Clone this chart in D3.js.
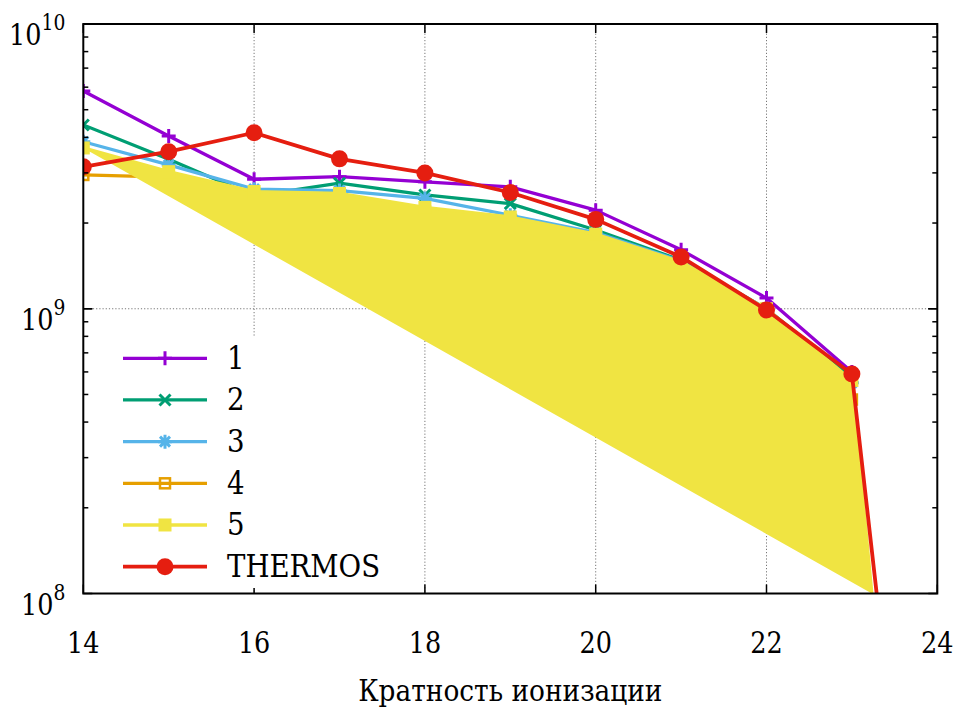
<!DOCTYPE html>
<html><head><meta charset="utf-8">
<script src="https://cdn.jsdelivr.net/npm/d3@7"></script>
<style>body{margin:0;background:#fff}svg{display:block}</style>
</head><body>
<svg id="c" width="963" height="711"></svg>
<script>
// ---- data ----
const xCharge = [14,15,16,17,18,19,20,21,22,23];
const xChargeExt = [14,15,16,17,18,19,20,21,22,23,24];
const series1 = [5.82e9,4.04e9,2.85e9,2.91e9,2.79e9,2.68e9,2.22e9,1.61e9,1.09e9,6.0e8];
const series2 = [4.42e9,3.35e9,2.49e9,2.76e9,2.51e9,2.34e9,1.89e9,1.48e9,1.0e9,5.7e8];
const series3 = [3.86e9,3.2e9,2.63e9,2.6e9,2.44e9,2.13e9,1.85e9,1.47e9,1.0e9,5.5e8];
const series4 = [2.95e9,2.9e9,2.5e9,2.45e9,2.2e9,2.05e9,1.8e9,1.42e9,0.98e9,4.8e8];
const series5 = [3.67e9,3.03e9,2.58e9,2.54e9,2.27e9,2.10e9,1.83e9,1.46e9,1.0e9,5.6e8,3.5e5];
const thermos = [3.15e9,3.56e9,4.15e9,3.36e9,3.0e9,2.56e9,2.06e9,1.52e9,0.99e9,5.9e8,1.3e6];
const legendLabels = ["1","2","3","4","5","THERMOS"];
const xTickValues = [14,16,18,20,22,24];
const yTickExponents = [8,9,10];
const xLabel = "Кратность ионизации";

const FONT="DejaVu Serif";
const L=83.3,R=937.3,T=24,B=593.5;
const svg=d3.select("#c");
const x=d3.scaleLinear().domain([14,24]).range([L,R]);
const y=d3.scaleLog().domain([1e8,1e10]).range([B,T]);

svg.append("defs").append("clipPath").attr("id","pc")
  .append("rect").attr("x",L).attr("y",T).attr("width",R-L).attr("height",B-T);

// grid
const grid=svg.append("g").attr("stroke","#777").attr("stroke-width",1).attr("stroke-dasharray","1.2,2");
xTickValues.filter(v=>v>14&&v<24).forEach(v=>{
  grid.append("line").attr("x1",x(v)).attr("x2",x(v)).attr("y1",T).attr("y2",B);
});
yTickExponents.filter(e=>e>8&&e<10).forEach(e=>{
  grid.append("line").attr("x1",L).attr("x2",R).attr("y1",y(Math.pow(10,e))).attr("y2",y(Math.pow(10,e)));
});

const colors=["#9400d3","#009e73","#56b4e9","#e69f00","#f0e442","#e51e10"];
const lw=[3.3,3.3,3.3,3.3,3.3,3.8];
const plot=svg.append("g").attr("clip-path","url(#pc)");
const line=d3.line().x(d=>x(d[0])).y(d=>y(d[1]));

function marker(g,type,cx,cy,col){
  const s=7;
  if(type==="plus"){
    g.append("path").attr("d",`M${cx-s},${cy}H${cx+s}M${cx},${cy-s}V${cy+s}`).attr("stroke",col).attr("stroke-width",3).attr("fill","none");
  } else if(type==="cross"){
    const k=5.5;
    g.append("path").attr("d",`M${cx-k},${cy-k}L${cx+k},${cy+k}M${cx-k},${cy+k}L${cx+k},${cy-k}`).attr("stroke",col).attr("stroke-width",3).attr("fill","none");
  } else if(type==="star"){
    const k=5;
    g.append("path").attr("d",`M${cx-s},${cy}H${cx+s}M${cx},${cy-s}V${cy+s}M${cx-k},${cy-k}L${cx+k},${cy+k}M${cx-k},${cy+k}L${cx+k},${cy-k}`).attr("stroke",col).attr("stroke-width",3).attr("fill","none");
  } else if(type==="osq"){
    g.append("rect").attr("x",cx-5).attr("y",cy-5).attr("width",10).attr("height",10).attr("fill","none").attr("stroke",col).attr("stroke-width",2.5);
  } else if(type==="fsq"){
    g.append("rect").attr("x",cx-6.5).attr("y",cy-6.5).attr("width",13).attr("height",13).attr("fill",col);
  } else if(type==="circ"){
    g.append("circle").attr("cx",cx).attr("cy",cy).attr("r",8.5).attr("fill",col);
  }
}
const mtypes=["plus","cross","star","osq","fsq","circ"];
const allSeries=[
  {xs:xCharge,ys:series1},{xs:xCharge,ys:series2},{xs:xCharge,ys:series3},
  {xs:xCharge,ys:series4},{xs:xChargeExt,ys:series5},{xs:xChargeExt,ys:thermos}
];

allSeries.forEach((s,i)=>{
  const pts=s.xs.map((v,j)=>[v,s.ys[j]]);
  const g=plot.append("g");
  if(i===4){
    // closed filled curve, clipped at the lower limit of the y axis
    const ymin=y.domain()[0];
    const poly=[];
    for(let j=0;j<pts.length;j++){
      if(pts[j][1]>=ymin){poly.push(pts[j]);}
      else{
        const a=pts[j-1],b=pts[j];
        const t=(Math.log10(a[1])-Math.log10(ymin))/(Math.log10(a[1])-Math.log10(b[1]));
        poly.push([a[0]+t*(b[0]-a[0]),ymin]);
        break;
      }
    }
    g.append("path").attr("d",line(poly)+"Z").attr("fill",colors[i]).attr("stroke","none");
  }
  g.append("path").attr("d",line(pts)).attr("fill","none").attr("stroke",colors[i])
    .attr("stroke-width",lw[i]).attr("stroke-linejoin","round");
  pts.forEach(p=>{ if(p[1]>=y.domain()[0]) marker(g,mtypes[i],x(p[0]),y(p[1]),colors[i]); });
});

// border
svg.append("rect").attr("x",L).attr("y",T).attr("width",R-L).attr("height",B-T)
  .attr("fill","none").attr("stroke","#000").attr("stroke-width",2);

// ticks
const tk=svg.append("g").attr("stroke","#000").attr("stroke-width",1.5);
xTickValues.forEach(v=>{
  tk.append("line").attr("x1",x(v)).attr("x2",x(v)).attr("y1",B).attr("y2",B-9);
  tk.append("line").attr("x1",x(v)).attr("x2",x(v)).attr("y1",T).attr("y2",T+9);
});
for(let e=8;e<10;e++){
  for(let m=1;m<=10;m++){
    const v=m*Math.pow(10,e);
    const len=(m===1||m===10)?9:5;
    tk.append("line").attr("x1",L).attr("x2",L+len).attr("y1",y(v)).attr("y2",y(v));
    tk.append("line").attr("x1",R).attr("x2",R-len).attr("y1",y(v)).attr("y2",y(v));
  }
}

function txt(g,px,py,sx,size,anchor){
  return g.append("text").attr("transform",`translate(${px},${py}) scale(${sx},1)`)
    .attr("font-family",FONT).attr("font-size",size).attr("text-anchor",anchor).attr("fill","#000");
}
// tick labels
const tl=svg.append("g");
xTickValues.forEach(v=>{ txt(tl,x(v),653,0.85,30,"middle").text(v); });
yTickExponents.forEach(e=>{
  const ty=y(Math.pow(10,e));
  const t=txt(tl,L-18,ty+21,0.85,30,"end");
  t.append("tspan").text("10");
  t.append("tspan").attr("font-size",22).attr("dy",-15).text(e);
});

// axis label
txt(svg,(L+R)/2,701,0.88,30,"middle").text(xLabel);

// legend (opaque key)
const lg=svg.append("g");
lg.append("rect").attr("x",110).attr("y",337).attr("width",285).attr("height",251).attr("fill","#fff");
legendLabels.forEach((lab,i)=>{
  const ly=358.3+i*41.67;
  lg.append("line").attr("x1",123).attr("x2",207).attr("y1",ly).attr("y2",ly).attr("stroke",colors[i]).attr("stroke-width",lw[i]);
  marker(lg,mtypes[i],165,ly,colors[i]);
  txt(lg,227,ly+10.5,0.89,31,"start").text(lab);
});
</script>
</body></html>
